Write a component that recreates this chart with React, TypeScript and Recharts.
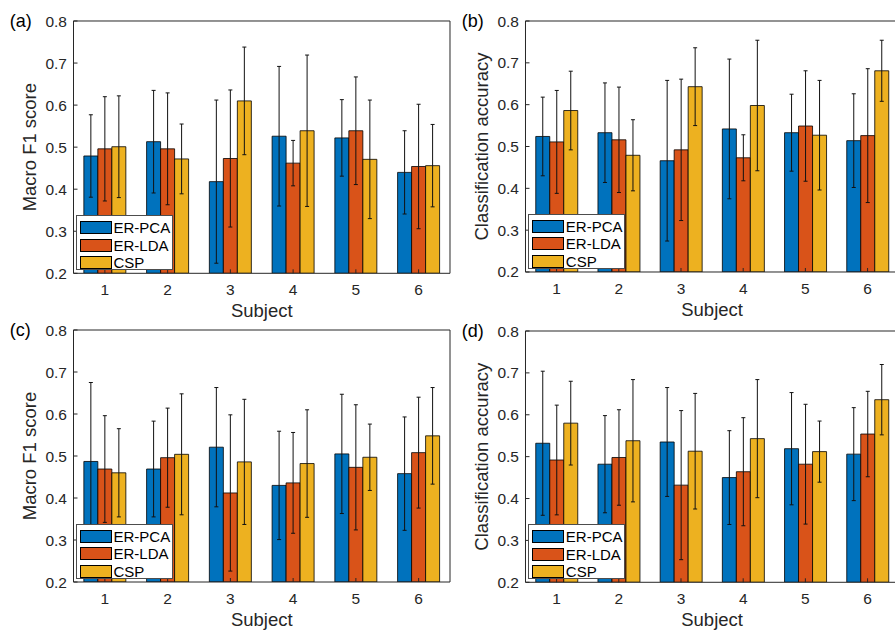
import React from "react";
import { Bar, BarChart, ErrorBar, Legend, XAxis, YAxis } from "recharts";

const FONT = '"Liberation Sans", Arial, Helvetica, sans-serif';
const INK = "#262626";

const subjects = ["1", "2", "3", "4", "5", "6"];
const methods = ["ER-PCA", "ER-LDA", "CSP"];
const colors = ["#0072BD", "#D95319", "#EDB120"];
const yTicks = [0.2, 0.3, 0.4, 0.5, 0.6, 0.7, 0.8];

// (a) macro F1
const f1PcaA = [0.479, 0.513, 0.418, 0.526, 0.522, 0.44];
const f1PcaSdA = [0.098, 0.122, 0.194, 0.166, 0.091, 0.099];
const f1LdaA = [0.496, 0.496, 0.473, 0.462, 0.539, 0.454];
const f1LdaSdA = [0.124, 0.133, 0.163, 0.054, 0.128, 0.148];
const f1CspA = [0.501, 0.472, 0.61, 0.539, 0.471, 0.456];
const f1CspSdA = [0.121, 0.083, 0.128, 0.18, 0.141, 0.098];

// (b) accuracy
const accPcaB = [0.524, 0.533, 0.466, 0.542, 0.533, 0.514];
const accPcaSdB = [0.094, 0.119, 0.192, 0.167, 0.092, 0.112];
const accLdaB = [0.511, 0.516, 0.492, 0.473, 0.549, 0.526];
const accLdaSdB = [0.123, 0.126, 0.169, 0.055, 0.132, 0.16];
const accCspB = [0.586, 0.479, 0.643, 0.598, 0.527, 0.681];
const accCspSdB = [0.094, 0.085, 0.093, 0.156, 0.131, 0.073];

// (c) macro F1
const f1PcaC = [0.487, 0.469, 0.521, 0.43, 0.505, 0.458];
const f1PcaSdC = [0.188, 0.114, 0.142, 0.129, 0.142, 0.135];
const f1LdaC = [0.469, 0.496, 0.412, 0.436, 0.473, 0.508];
const f1LdaSdC = [0.127, 0.118, 0.186, 0.12, 0.149, 0.132];
const f1CspC = [0.46, 0.504, 0.486, 0.482, 0.497, 0.548];
const f1CspSdC = [0.105, 0.144, 0.149, 0.128, 0.079, 0.115];

// (d) accuracy
const accPcaD = [0.532, 0.482, 0.535, 0.45, 0.519, 0.506];
const accPcaSdD = [0.172, 0.116, 0.13, 0.112, 0.134, 0.111];
const accLdaD = [0.492, 0.498, 0.432, 0.464, 0.482, 0.554];
const accLdaSdD = [0.131, 0.114, 0.178, 0.129, 0.143, 0.102];
const accCspD = [0.58, 0.538, 0.513, 0.543, 0.512, 0.636];
const accCspSdD = [0.1, 0.146, 0.138, 0.141, 0.073, 0.084];

interface PlotRect {
  left: number;
  top: number;
  right: number;
  bottom: number;
}

interface PanelProps {
  letter: string;
  yLabel: string;
  means: number[][];
  sds: number[][];
  plot: PlotRect;
}

const keys = ["pca", "lda", "csp"];

const renderLegend = (props: any) => {
  const payload = [...(props.payload || [])].sort(
    (a: any, b: any) => methods.indexOf(a.value) - methods.indexOf(b.value)
  );
  return (
    <div
      style={{
        width: 97,
        height: 55,
        boxSizing: "border-box",
        border: "1px solid #4d4d4d",
        background: "#fff",
        padding: "3px 0 0 3px",
      }}
    >
      {payload.map((e: any) => (
        <div
          key={e.value}
          style={{ display: "flex", alignItems: "center", height: 17.3 }}
        >
          <span
            style={{
              display: "inline-block",
              width: 32,
              height: 13,
              boxSizing: "border-box",
              background: e.color,
              border: "1px solid #000",
            }}
          />
          <span
            style={{
              marginLeft: 2,
              fontSize: 15,
              fontFamily: FONT,
              color: "#000",
              lineHeight: "17px",
            }}
          >
            {e.value}
          </span>
        </div>
      ))}
    </div>
  );
};

const Panel: React.FC<PanelProps> = ({ letter, yLabel, means, sds, plot }) => {
  const boxLeft = plot.left - 73.5;
  const boxTop = plot.top - 21;
  const width = plot.right - boxLeft + 2;
  const height = plot.bottom - boxTop + 50;

  const data = subjects.map((s, i) => {
    const row: any = { subject: s };
    keys.forEach((k, j) => {
      row[k] = means[j][i];
      row[k + "Err"] = sds[j][i];
    });
    return row;
  });

  const tickStyle = { fill: INK, fontSize: 15.5, fontFamily: FONT };

  return (
    <div style={{ position: "absolute", left: boxLeft, top: boxTop }}>
      <BarChart
        width={width}
        height={height}
        data={data}
        margin={{ top: 20, right: 1, bottom: 0, left: 13.5 }}
        barCategoryGap="16.5%"
        barGap={0}
      >
        <XAxis
          xAxisId="b"
          dataKey="subject"
          height={50}
          tickSize={-4}
          tickMargin={15}
          tick={tickStyle}
          tickLine={{ stroke: INK }}
          axisLine={{ stroke: INK }}
          label={{
            content: (p: any) => {
              const vb = p.viewBox;
              return (
                <text
                  x={vb.x + vb.width / 2}
                  y={vb.y + 44}
                  textAnchor="middle"
                  fill={INK}
                  fontSize={18.5}
                  fontFamily={FONT}
                >
                  Subject
                </text>
              );
            },
          }}
        />
        <XAxis
          xAxisId="t"
          dataKey="subject"
          orientation="top"
          height={1}
          tick={false}
          tickSize={-4}
          tickLine={{ stroke: INK }}
          axisLine={{ stroke: INK }}
        />
        <YAxis
          yAxisId="l"
          type="number"
          width={60}
          domain={[0.2, 0.8]}
          ticks={yTicks}
          allowDataOverflow
          tickFormatter={(v: number) => v.toFixed(1)}
          tickSize={-4}
          tickMargin={10.5}
          tick={tickStyle}
          tickLine={{ stroke: INK }}
          axisLine={{ stroke: INK }}
          label={{
            content: (p: any) => {
              const vb = p.viewBox;
              const ax = vb.x + vb.width;
              const cy = vb.y + vb.height / 2;
              return (
                <g>
                  <text
                    x={ax - 44}
                    y={cy}
                    transform={`rotate(-90 ${ax - 44} ${cy})`}
                    textAnchor="middle"
                    dominantBaseline="central"
                    fill={INK}
                    fontSize={18.5}
                    fontFamily={FONT}
                  >
                    {yLabel}
                  </text>
                  <text
                    x={ax - 63.7}
                    y={vb.y + 6.3}
                    fill="#000"
                    fontSize={18}
                    fontFamily={FONT}
                  >
                    {letter}
                  </text>
                </g>
              );
            },
          }}
        />
        <YAxis
          yAxisId="r"
          orientation="right"
          type="number"
          width={1}
          domain={[0.2, 0.8]}
          ticks={yTicks}
          tick={false}
          tickSize={-4}
          tickLine={{ stroke: INK }}
          axisLine={{ stroke: INK }}
        />
        <Legend
          layout="vertical"
          align="center"
          verticalAlign="middle"
          content={renderLegend}
          wrapperStyle={{
            left: plot.left + 2 - boxLeft,
            top: plot.bottom - 58 - boxTop,
            width: 97,
            height: 55,
          }}
        />
        {keys.map((k, j) => (
          <Bar
            key={k}
            xAxisId="b"
            yAxisId="l"
            dataKey={k}
            name={methods[j]}
            fill={colors[j]}
            stroke="#000"
            strokeWidth={0.8}
            isAnimationActive={false}
          >
            <ErrorBar
              dataKey={k + "Err"}
              direction="y"
              width={2}
              stroke="#111"
              strokeWidth={1}
              isAnimationActive={false}
            />
          </Bar>
        ))}
      </BarChart>
    </div>
  );
};

export default function App() {
  return (
    <div
      style={{
        position: "absolute",
        left: 0,
        top: 0,
        width: 895,
        height: 631,
        overflow: "hidden",
        background: "#fff",
      }}
    >
      <Panel
        letter="(a)"
        yLabel="Macro F1 score"
        means={[f1PcaA, f1LdaA, f1CspA]}
        sds={[f1PcaSdA, f1LdaSdA, f1CspSdA]}
        plot={{ left: 73.5, top: 21, right: 450, bottom: 273.3 }}
      />
      <Panel
        letter="(b)"
        yLabel="Classification accuracy"
        means={[accPcaB, accLdaB, accCspB]}
        sds={[accPcaSdB, accLdaSdB, accCspSdB]}
        plot={{ left: 525.8, top: 21, right: 899, bottom: 272 }}
      />
      <Panel
        letter="(c)"
        yLabel="Macro F1 score"
        means={[f1PcaC, f1LdaC, f1CspC]}
        sds={[f1PcaSdC, f1LdaSdC, f1CspSdC]}
        plot={{ left: 73.5, top: 330, right: 450, bottom: 582 }}
      />
      <Panel
        letter="(d)"
        yLabel="Classification accuracy"
        means={[accPcaD, accLdaD, accCspD]}
        sds={[accPcaSdD, accLdaSdD, accCspSdD]}
        plot={{ left: 525.8, top: 331, right: 899, bottom: 582.3 }}
      />
    </div>
  );
}
